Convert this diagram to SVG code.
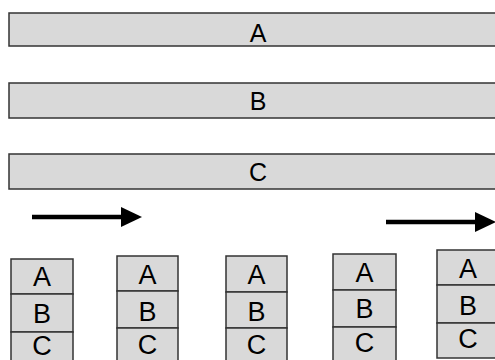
<svg xmlns="http://www.w3.org/2000/svg" width="495" height="360" viewBox="0 0 495 360">
<style>
.box{fill:#d9d9d9;stroke:#333;stroke-width:1.5}
.lb{font-family:"Liberation Sans",Arial,sans-serif;font-size:25px;fill:#000;text-anchor:middle}
.ls{font-family:"Liberation Sans",Arial,sans-serif;font-size:27px;fill:#000;text-anchor:middle}
.arr{stroke:#000;stroke-width:4.5;fill:none}
</style>
<rect width="495" height="360" fill="#fff"/>
<g id="barA"><rect class="box" x="9" y="13" width="495" height="33"/><text class="lb" x="258" y="42">A</text></g>
<g id="barB"><rect class="box" x="9" y="83" width="495" height="35"/><text class="lb" x="258" y="110">B</text></g>
<g id="barC"><rect class="box" x="9" y="154" width="495" height="35"/><text class="lb" x="258" y="181">C</text></g>
<g id="connectors">
<line class="arr" x1="32" y1="217" x2="123" y2="217"/>
<polygon points="121,207 142,217 121,227" fill="#000"/>
<line class="arr" x1="386" y1="222" x2="477" y2="222"/>
<polygon points="475,212 496,222 475,232" fill="#000"/>
</g>
<g id="stack1">
<rect class="box" x="11" y="259" width="62" height="35"/><rect class="box" x="11" y="294" width="62" height="38"/><rect class="box" x="11" y="332" width="62" height="40"/>
<text class="ls" x="42" y="286">A</text><text class="ls" x="42" y="323">B</text><text class="ls" x="42" y="355">C</text>
</g>
<g id="stack2">
<rect class="box" x="117" y="256" width="61" height="35"/><rect class="box" x="117" y="291" width="61" height="37"/><rect class="box" x="117" y="328" width="61" height="40"/>
<text class="ls" x="147.5" y="284">A</text><text class="ls" x="147.5" y="321">B</text><text class="ls" x="147.5" y="354">C</text>
</g>
<g id="stack3">
<rect class="box" x="226" y="256" width="61" height="36"/><rect class="box" x="226" y="292" width="61" height="36"/><rect class="box" x="226" y="328" width="61" height="40"/>
<text class="ls" x="256.5" y="284">A</text><text class="ls" x="256.5" y="321">B</text><text class="ls" x="256.5" y="354">C</text>
</g>
<g id="stack4">
<rect class="box" x="333" y="254" width="63" height="36"/><rect class="box" x="333" y="290" width="63" height="37"/><rect class="box" x="333" y="327" width="63" height="40"/>
<text class="ls" x="364.5" y="282">A</text><text class="ls" x="364.5" y="318">B</text><text class="ls" x="364.5" y="352">C</text>
</g>
<g id="stack5">
<rect class="box" x="437" y="250" width="62" height="35"/><rect class="box" x="437" y="285" width="62" height="38"/><rect class="box" x="437" y="323" width="62" height="35"/>
<text class="ls" x="468" y="278">A</text><text class="ls" x="468" y="315">B</text><text class="ls" x="468" y="348">C</text>
</g>
</svg>
